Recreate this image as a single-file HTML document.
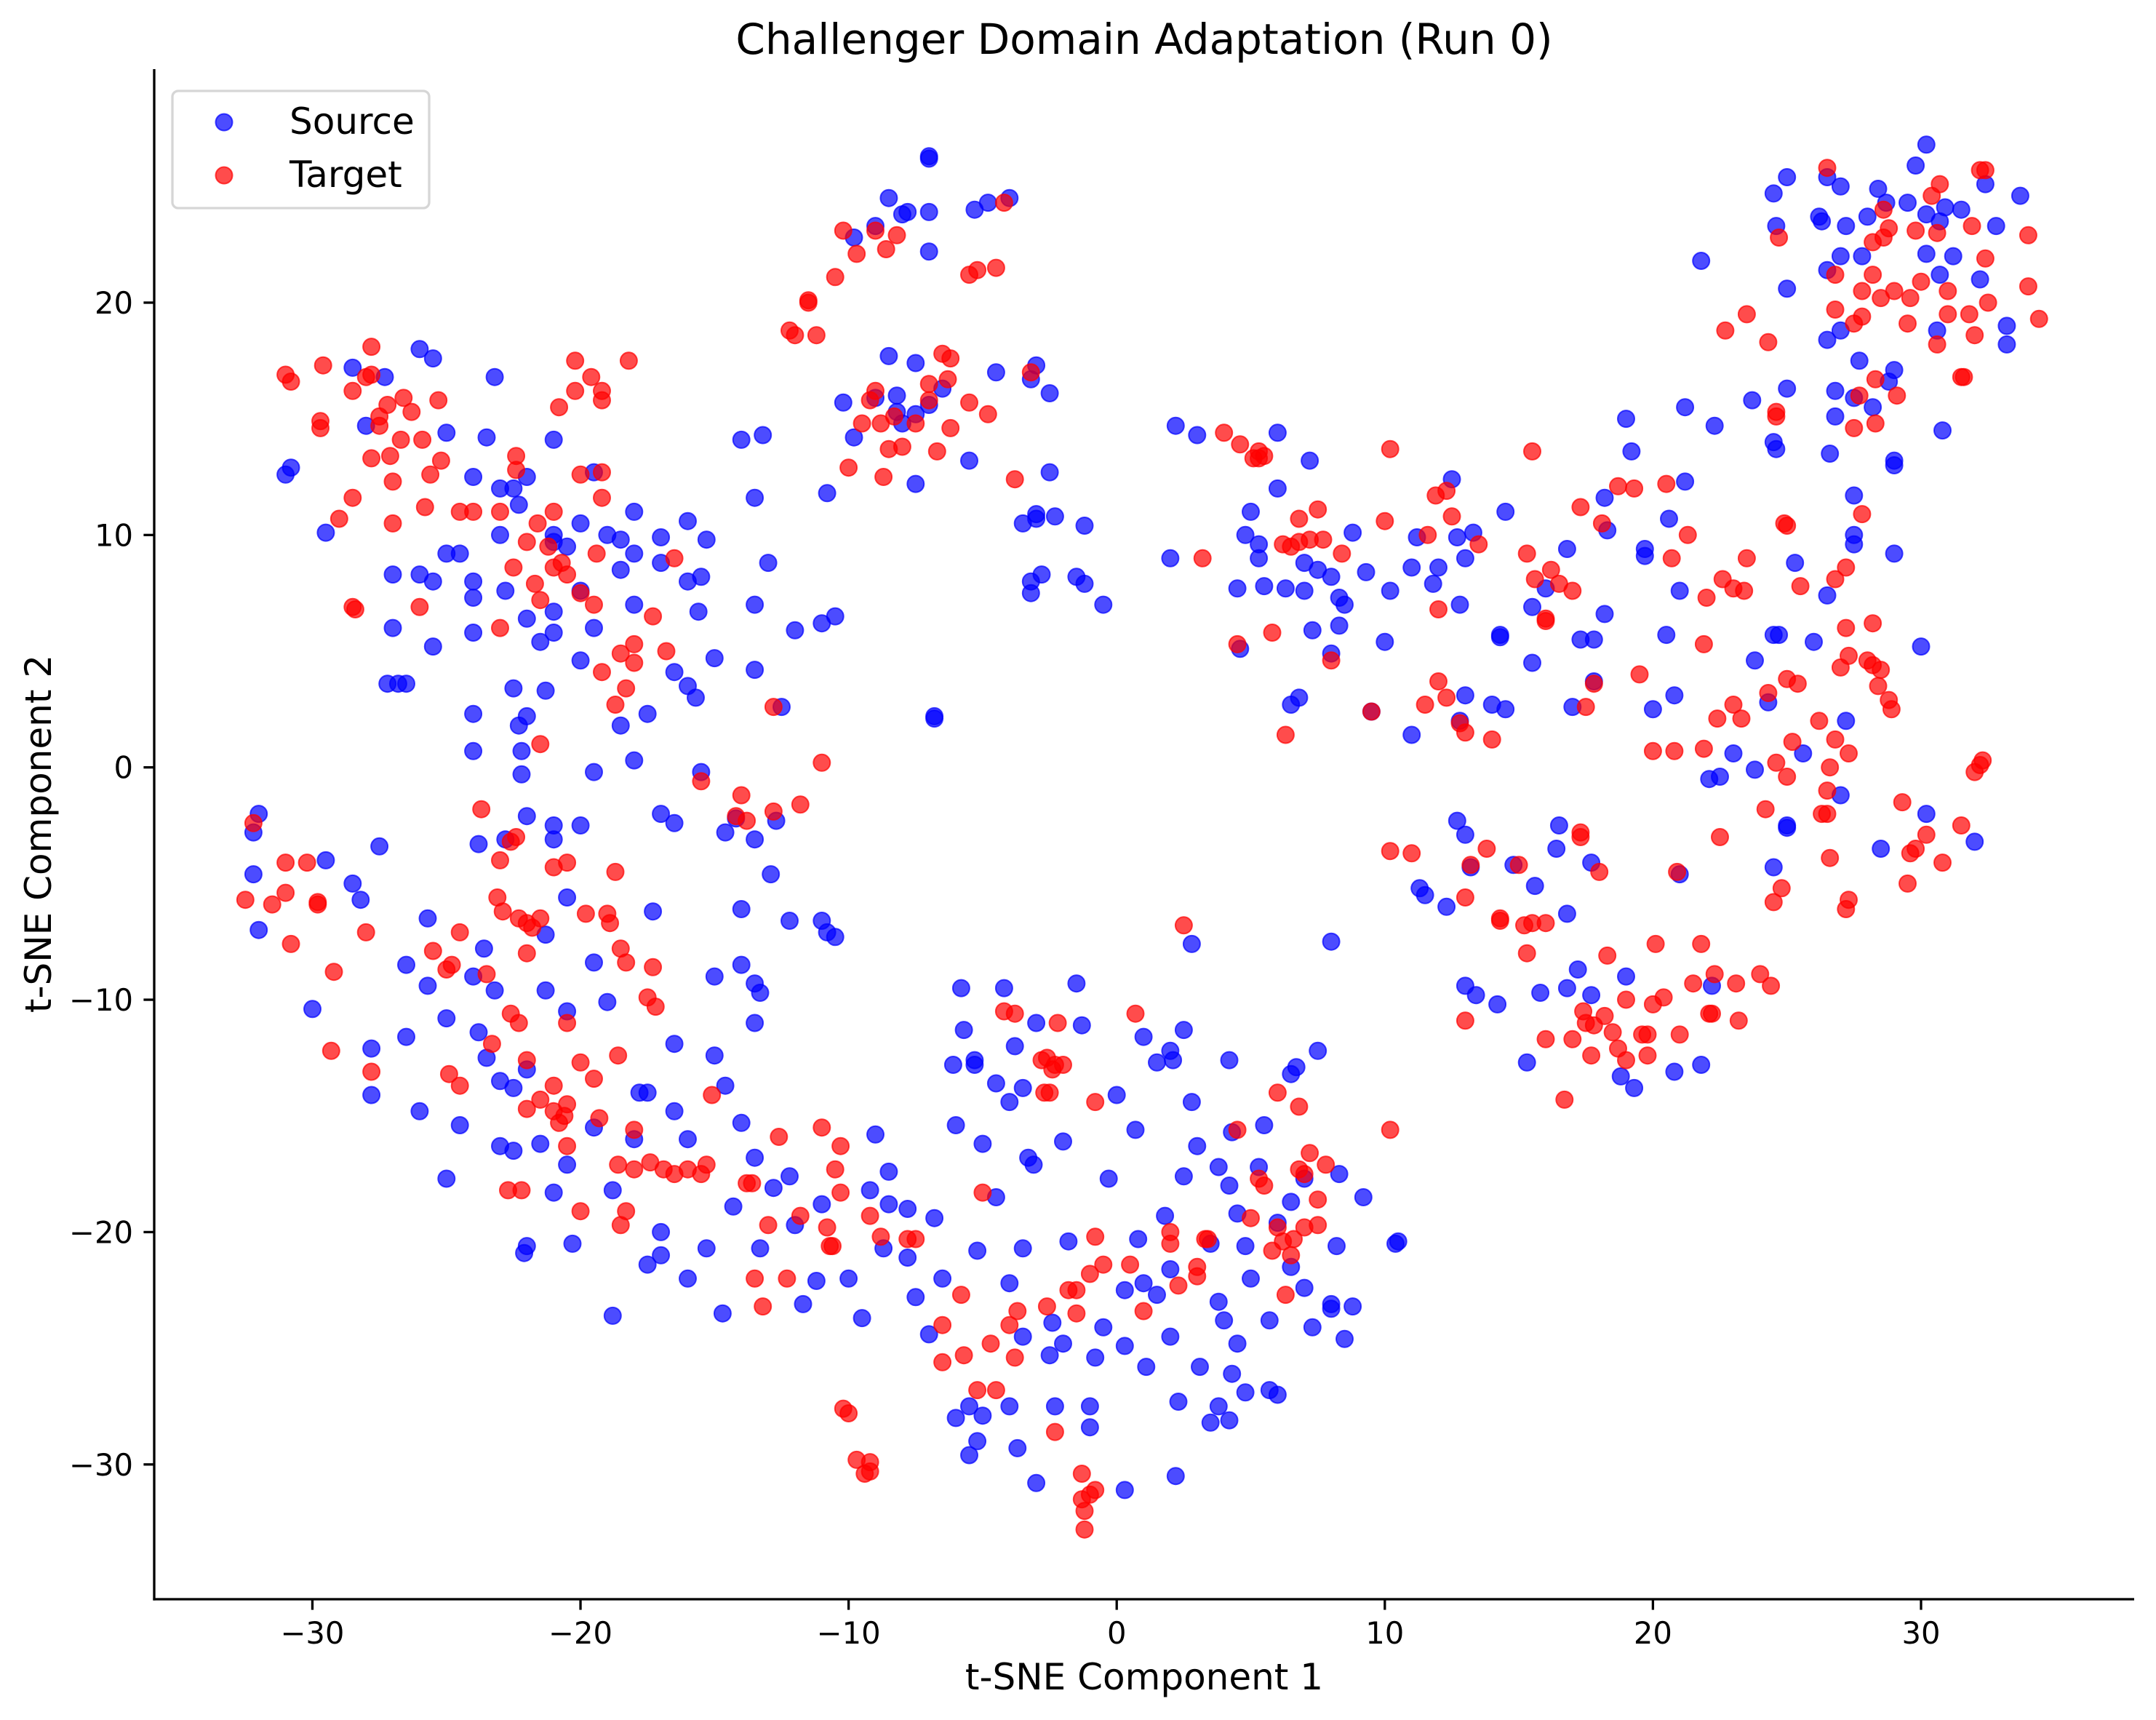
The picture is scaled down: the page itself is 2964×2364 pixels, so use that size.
<!DOCTYPE html>
<html><head><meta charset="utf-8"><style>
html,body{margin:0;padding:0;background:#fff}
svg{display:block;font-family:"DejaVu Sans","Liberation Sans",sans-serif}
</style></head><body>
<svg id="chart" width="2964" height="2364" viewBox="0 0 2964 2364" xmlns="http://www.w3.org/2000/svg">
<rect width="2964" height="2364" fill="#fff"/>
<text x="1573" y="74" font-size="58" text-anchor="middle">Challenger Domain Adaptation (Run 0)</text>
<g id="marks"></g>
<g id="axes"></g>
<text x="1573" y="2322" font-size="50" text-anchor="middle">t-SNE Component 1</text>
<text x="0" y="0" font-size="50" text-anchor="middle" transform="translate(70,1146) rotate(-90)">t-SNE Component 2</text>
<g>
<rect x="237" y="125" width="353" height="161" rx="8" fill="#fff" fill-opacity="0.8" stroke="#d6d6d6" stroke-width="3.3"/>
<circle cx="308" cy="168" r="11.5" fill="#0000ff" fill-opacity="0.7" stroke="#0000ff" stroke-opacity="0.7" stroke-width="2"/>
<text x="398" y="184" font-size="50">Source</text>
<circle cx="308" cy="241" r="11.5" fill="#ff0000" fill-opacity="0.7" stroke="#ff0000" stroke-opacity="0.7" stroke-width="2"/>
<text x="398" y="257" font-size="50">Target</text>
</g>
</svg>
<script>
const xTicks=[-30,-20,-10,0,10,20,30];
const yTicks=[-30,-20,-10,0,10,20];
const sourcePts=[[-31,12.6],[-30.8,12.9],[-29.5,10.1],[-28.5,17.2],[-26,18],[-25.5,17.6],[-27.3,16.8],[-28,14.7],[-25,14.4],[-23.2,16.8],[-23.5,14.2],[-24,12.5],[-22,12.5],[-21,14.1],[-23,12],[-22.3,11.3],[-24.5,9.2],[-25,9.2],[-26,8.3],[-27,8.3],[-25.5,8],[-24,8],[-24,7.3],[-22.8,7.6],[-23,10],[-21,10],[-20.5,9.5],[-20,10.5],[-19.5,12.7],[-18,11],[-18.5,9.8],[-18.5,8.5],[-17,9.9],[-17,8.8],[-16,10.6],[-15.3,9.8],[-15.5,8.2],[-16,8],[-15.6,6.7],[-18,7],[-21,6.7],[-19.5,6],[-21,5.8],[-21.5,5.4],[-22,6.4],[-24,5.8],[-25.5,5.2],[-27,6],[-27.2,3.6],[-26.8,3.6],[-26.5,3.6],[-24,2.3],[-22.5,3.4],[-22,2.2],[-22.3,1.8],[-22.2,0.7],[-22.2,-0.3],[-24,0.7],[-21.3,3.3],[-20,4.6],[-19.5,-0.2],[-18.5,1.8],[-18,0.3],[-17.5,2.3],[-16.5,4.1],[-16,3.5],[-15.7,3],[-15.5,-0.2],[-15,4.7],[-18,9.2],[-19,10],[-20,7.6],[-21,9.7],[-22.5,12],
[-14,14.1],[-13.2,14.3],[-13.5,11.6],[-13,8.8],[-13.5,7],[-12.5,2.6],[-12,5.9],[-11,6.2],[-10.5,6.5],[-10.8,11.8],[-10.2,15.7],[-9.8,14.2],[-9,15.9],[-8.5,17.7],[-7.5,17.4],[-8,14.8],[-7.5,15.2],[-7,15.6],[-7.5,12.2],[-6.5,16.3],[-5.5,13.2],[-4.5,17],[-3,17.3],[-3.2,16.7],[-2.5,16.1],[-3.5,10.5],[-2.5,12.7],[-3,10.7],[-3,10.9],[-2.3,10.8],[-3.2,8],[-3.2,7.5],[-2.8,8.3],[-1.5,8.2],[-1.2,7.9],[-1.2,10.4],[-0.5,7],[-13.5,4.2],[-6.8,2.1],[-6.8,2.2],
[-9.8,22.8],[-9,23.3],[-8.5,24.5],[-8,23.8],[-7.8,23.9],[-7,26.2],[-7,26.3],[-7,23.9],[-7,22.2],[-5.3,24],[-4.8,24.3],[-4,24.5],[-8.2,16],[-8.2,15.3],
[-32,-2],[-32.2,-2.8],[-32.2,-4.6],[-32,-7],[-29.5,-4],[-28.5,-5],[-28.2,-5.7],[-27.5,-3.4],[-30,-10.4],[-27.8,-12.1],[-27.8,-14.1],[-26.5,-8.5],[-26.5,-11.6],[-26,-14.8],[-25.7,-9.4],[-25.7,-6.5],[-25,-10.8],[-24.5,-15.4],[-25,-17.7],[-24,-9],[-23.8,-11.4],[-23.5,-12.5],[-23.6,-7.8],[-23.2,-9.6],[-23,-13.5],[-22.5,-13.8],[-23,-16.3],[-22.5,-16.5],[-22,-13],[-22,-20.6],[-22.1,-20.9],[-21.5,-16.2],[-21,-18.3],[-21.3,-9.6],[-21.3,-7.2],[-20.5,-5.6],[-20.5,-10.5],[-20.5,-17.1],[-20.3,-20.5],[-19.5,-15.5],[-19,-10.1],[-19.5,-8.4],[-20,-2.5],[-21,-2.5],[-21,-3.1],[-22,-2.1],[-22.8,-3.1],[-23.8,-3.3],[-18.8,-18.2],[-18.8,-23.6],[-18,-16],[-17.8,-14],[-17.5,-14],[-17.5,-21.4],[-17,-21],[-17,-20],[-17.3,-6.2],[-17,-2],[-16.5,-2.4],[-16.5,-11.9],[-16.5,-14.8],[-16,-16],[-16,-22],[-15.3,-20.7],[-15,-12.4],[-14.6,-13.7],[-15,-9],[-14.6,-2.8],[-14,-6.1],[-14,-8.5],[-13.5,-9.3],[-13.5,-11],[-13.3,-9.7],[-13.5,-3.1],[-12.9,-4.6],[-12.7,-2.3],[-14,-15.3],[-14.3,-18.9],[-14.7,-23.5],[-13.3,-20.7],[-13.5,-16.8],[-12.8,-18.1],[-12.2,-17.6],[-12,-19.7],[-11.7,-23.1],[-11.2,-22.1],[-11,-18.8],[-12.2,-6.6],[-11,-6.6],[-10.8,-7.1],[-10.5,-7.3],[-10,-22],[-9.5,-23.7],[-9.2,-18.2],[-8.7,-20.7],[-8.5,-17.4],[-8.5,-18.8],[-9,-15.8],[-7.8,-21.1],[-7.5,-22.8],[-7,-24.4],[-6.8,-19.4],[-6.5,-22],[-6,-15.4],[-5.8,-9.5],[-5.7,-11.3],[-6.1,-12.8],[-6,-28],[-5.5,-29.6],[-5.5,-27.5],[-5.2,-29],[-5,-27.9],[-5.3,-12.6],[-5.3,-12.8],[-5,-16.2],[-4.5,-13.6],[-4.5,-18.5],[-4.2,-9.5],[-4,-14.4],[-4,-22.2],[-4,-27.5],[-3.8,-12],[-3.5,-13.8],[-3.5,-20.7],[-3.5,-24.5],[-3.7,-29.3],[-3.3,-16.8],[-3.1,-17.1],[-3,-11],[-3,-30.8],[-2.5,-25.3],[-2.4,-23.9],[-2.3,-27.5],[-2,-24.8],[-1.8,-20.4],[-1.5,-9.3],[-1.3,-11.1],[-1,-28.4],[-1,-27.5],[-0.8,-25.4],[-0.5,-24.1],[-0.3,-17.7],[0,-14.1],[0.3,-22.5],[0.3,-24.9],[0.3,-31.1],[0.7,-15.6],[0.8,-20.3],[1,-11.6],[1,-22.2],[1.1,-25.8],[1.5,-12.7],[1.8,-19.3],[2,-12.2],[2,-21.6],[2.1,-12.6],[2,-24.5],[2.2,-30.5],[2.3,-27.3],[2.5,-11.3],[2.5,-17.6],[2.8,-7.6],[2.8,-14.4],[3,-16.3],[3.1,-25.8],[3.5,-20.5],[3.5,-28.2],[3.8,-23],[3.8,-27.5],[4,-23.8],[4.2,-12.6],[4.2,-18],[4.3,-15.7],[4.3,-26.1],[4.2,-28.1],[4.5,-19.2],[4.5,-24.8],[4.8,-20.6],[4.8,-26.9],[5,-22],[5.5,-15.4],[5.7,-23.8],[5.7,-26.8],[6,-27],[6,-19.6],[6.5,-21.5],[6.5,-18.7],[6.7,-12.9],[7,-17.7],[7,-22.4],[7.3,-24.1],[8,-23.3],[8,-23.1],[8.2,-20.6],[8.3,-17.5],[8.5,-24.6],[8.8,-23.2],[9.2,-18.5],[10.5,-20.4],[10.4,-20.5],[8,-7.5],[7.5,-12.2],[6.5,-13.2],[5.3,-17.2],[1.5,-22.7],[3.8,-17.2],[-7.8,-19],[-5.2,-20.8],[-2,-16.1],[-14.2,-2.2],
[2,9],[2.2,14.7],[3,14.3],[4.5,7.7],[4.6,5.1],[4.8,10],[5,11],[5.3,9.6],[5.5,7.8],[5.3,9],[6,14.4],[6,12],[6.3,7.7],[6.5,2.7],[6.8,3],[7,7.6],[7,8.8],[7.2,13.2],[7.3,5.9],[7.5,8.5],[8,8.2],[8.5,7],[8.3,7.3],[8.3,6.1],[8.8,10.1],[8,4.9],[9.3,8.4],[9.5,2.4],[10,5.4],[10.2,7.6],[11,8.6],[11,1.4],[11.2,9.9],[11.8,7.9],[12,8.6],[12.5,12.4],[12.7,9.9],[12.8,7],[13,9],[13,3.1],[13.3,10.1],[12.8,2],[14,2.7],[14.3,5.7],[14.3,5.6],[14.5,11],[14.5,2.5],[15.5,6.9],[15.5,4.5],[16,7.7],[16.8,9.4],[17,2.6],[17.3,5.5],[17.8,5.5],[17.8,3.7],[18.2,11.6],[18.3,10.2],[18.2,6.6],[19,15],[19.2,13.6],[19.7,9.1],[19.7,9.4],[20,2.5],[20.5,5.7],[20.6,10.7],[20.8,3.1],[21,7.6],[21.2,12.3],[21.2,15.5],[21.8,21.8],[22.3,14.7],[23,0.6],[22.1,-0.5],[22.5,-0.4],[23.7,15.8],[23.8,4.6],[24.3,2.8],[23.8,-0.1],[24.5,5.7],[24.7,5.7],[24.6,13.7],[25,-2.6],[25.3,8.8],[25.6,0.6],[26,5.4],[26.5,7.4],[27,-1.2],[27.2,2],[27.5,10],[27.5,9.6],[27.5,11.7],[28.5,-3.5],[30,5.2],[30.2,-2],[29,9.2],[30.8,14.5],[32,-3.2],
[24.5,24.7],[24.6,23.3],[25,25.4],[25,20.6],[25,16.3],[24.5,14],[26.2,23.7],[26.3,23.5],[26.5,25.4],[26.5,21.4],[26.5,18.4],[26.8,16.2],[26.8,15.1],[26.6,13.5],[27,25],[27,22],[27,18.8],[27.2,23.3],[27.5,15.9],[27.7,17.5],[27.8,22],[28,23.7],[28.2,15.5],[28.4,24.9],[28.7,24.3],[28.8,16.6],[29,17.1],[29,13.2],[29,13],[29.8,25.9],[30.2,26.8],[30.2,23.8],[30.7,23.5],[30.2,22.1],[30.7,21.2],[30.6,18.8],[30.9,24.1],[31.2,22],[31.5,24],[32.2,21],[32.4,25.1],[32.8,23.3],[33.2,19],[33.2,18.2],[33.7,24.6],[29.5,24.3],
[11.3,-5.2],[11.5,-5.5],[12.3,-6],[12.7,-2.3],[13,-2.9],[13,-9.4],[13.2,-4.3],[13.4,-9.8],[14.2,-10.2],[14.8,-4.2],[15.3,-12.7],[15.6,-5.1],[15.8,-9.7],[16.4,-3.5],[16.5,-2.5],[16.8,-6.3],[16.8,-9.5],[17.2,-8.7],[17.7,-4.1],[17.7,-9.8],[18.8,-13.3],[19,-9],[19.3,-13.8],[20.8,-13.1],[21,-4.6],[21.8,-12.8],[22.2,-9.4],[24.5,-4.3],[25,-2.5]];
const targetPts=[[-31,16.9],[-30.8,16.6],[-29.6,17.3],[-29.7,14.9],[-29.7,14.6],[-29,10.7],[-28.5,11.6],[-28.5,16.2],[-28,16.8],[-27.8,18.1],[-27.8,16.9],[-28.5,6.9],[-28.4,6.8],[-27.8,13.3],[-27.5,14.7],[-27.5,15.1],[-27.2,15.6],[-27.1,13.4],[-27,12.3],[-27,10.5],[-26.6,15.9],[-26.7,14.1],[-26.3,15.3],[-25.9,14.1],[-26,6.9],[-25.8,11.2],[-25.6,12.6],[-25.3,15.8],[-25.2,13.2],[-24.5,11],[-24,11],[-23,11],[-22.4,13.4],[-22.4,12.8],[-22.5,8.6],[-22,9.7],[-21.6,10.5],[-21.5,7.2],[-21.7,7.9],[-21.2,9.5],[-21,11],[-21,8.6],[-20.7,8.8],[-20.5,8.3],[-20.8,15.5],[-20.2,17.5],[-20.2,16.2],[-19.6,16.8],[-19.2,15.8],[-19.2,16.2],[-18.2,17.5],[-19.2,12.7],[-19.2,11.6],[-19.5,7],[-19.4,9.2],[-20,7.5],[-20,12.6],[-21.5,1],[-23,6],[-19.2,4.1],[-18.7,2.7],[-18.5,4.9],[-18,5.3],[-18.3,3.4],[-18,4.5],[-17.3,6.5],[-16.8,5],[-16.5,9],[-12.8,2.6],
[-11.5,20.1],[-11.5,20],[-12.2,18.8],[-12,18.6],[-11.2,18.6],[-10.5,21.1],[-10.2,23.1],[-9.7,22.1],[-9,23.1],[-8.6,22.3],[-8.2,22.9],[-5.5,21.2],[-5.2,21.4],[-4.5,21.5],[-4.2,24.3],[-10,12.9],[-9.5,14.8],[-9,16.2],[-8.8,14.8],[-8.7,12.5],[-8.5,13.7],[-8.3,15.1],[-8,13.8],[-7.5,14.8],[-7,16.5],[-7,15.8],[-6.7,13.6],[-6.5,17.8],[-6.3,16.7],[-6.2,14.6],[-5.5,15.7],[-4.8,15.2],[-3.8,12.4],[-3.2,17],[-11,0.2],[-11.8,-1.6],[-12.8,-1.9],[-14,-1.2],[-15.5,-0.6],[-9.2,15.8],[-6.2,17.6],
[-32.5,-5.7],[-32.2,-2.4],[-31.5,-5.9],[-31,-4.1],[-31,-5.4],[-30.8,-7.6],[-30.2,-4.1],[-29.8,-5.9],[-29.8,-5.8],[-29.2,-8.8],[-29.3,-12.2],[-28,-7.1],[-27.8,-13.1],[-25.5,-7.9],[-25,-8.7],[-24.8,-8.5],[-24.9,-13.2],[-24.5,-7.1],[-24.5,-13.7],[-23.7,-1.8],[-23.5,-8.9],[-23.3,-11.9],[-23,-4],[-23.1,-5.6],[-22.9,-6.2],[-22.6,-3.2],[-22.4,-3],[-22.6,-10.6],[-22.3,-6.5],[-22,-6.7],[-22,-8],[-22.3,-11],[-22,-12.6],[-22,-14.7],[-22.7,-18.2],[-22.2,-18.2],[-21.8,-6.9],[-21.5,-6.5],[-21.5,-14.3],[-21,-4.3],[-21,-13.7],[-21,-14.8],[-20.8,-15.3],[-20.6,-15],[-20.5,-4.1],[-20.5,-11],[-20.5,-14.5],[-20.5,-16.3],[-20,-12.7],[-20,-19.1],[-19.8,-6.3],[-19.5,-13.4],[-19.3,-15.1],[-19,-6.3],[-18.9,-6.7],[-18.7,-4.5],[-18.6,-12.4],[-18.6,-17.1],[-18.5,-7.8],[-18.3,-8.4],[-18.3,-19.1],[-18.5,-19.7],[-18,-15.6],[-18,-17.3],[-17.5,-9.9],[-17.3,-8.6],[-17.2,-10.3],[-17.4,-17],[-16.9,-17.3],[-16.5,-17.5],[-16,-17.3],[-15.5,-17.5],[-15.3,-17.1],[-15.1,-14.1],[-13.8,-17.9],[-13.6,-17.9],[-13.5,-22],[-13.2,-23.2],[-13,-19.7],[-12.6,-15.9],[-12.3,-22],[-11.8,-19.3],[-11,-15.5],[-10.8,-19.8],[-10.7,-20.6],[-10.6,-20.6],[-10.5,-17.3],[-10.3,-16.3],[-10.3,-18.3],[-10.2,-27.6],[-10,-27.8],[-9.7,-29.8],[-9.4,-30.4],[-9.2,-29.9],[-9.2,-30.3],[-9.2,-19.3],[-8.8,-20.2],[-7.8,-20.3],[-7.5,-20.3],[-6.5,-24],[-6.5,-25.6],[-5.8,-22.7],[-5.7,-25.3],[-5.2,-26.8],[-5,-18.3],[-4.7,-24.8],[-4.5,-26.8],[-4.2,-10.5],[-4,-24],[-3.8,-10.6],[-3.7,-23.4],[-3.8,-25.4],[-2.8,-12.6],[-2.7,-14],[-2.6,-12.5],[-2.5,-14],[-2.6,-23.2],[-2.3,-28.6],[-2.4,-13],[-2.3,-12.8],[-2.2,-11],[-2,-12.8],[-1.8,-22.5],[-1.5,-23.5],[-1.5,-22.5],[-1.3,-31.5],[-1.3,-30.4],[-1.2,-32],[-1.2,-32.8],[-1,-31.3],[-0.8,-31.1],[-0.8,-14.4],[-0.8,-20.2],[-1,-21.8],[-0.5,-21.4],[0.7,-10.6],[0.5,-21.4],[1,-23.4],[2,-20],[2,-20.5],[2.3,-22.3],[2.5,-6.8],[3,-21.9],[3,-21.5],[3.3,-20.3],[3.4,-20.3],[4.5,-15.6],[5,-19.4],[5.3,-17.7],[5.5,-18],[5.8,-20.8],[6,-14],[6,-19.8],[6.2,-20.4],[6.3,-22.7],[6.5,-21],[6.8,-14.6],[6.6,-20.3],[6.8,-17.3],[7,-17.5],[7,-19.8],[7.2,-16.6],[7.5,-18.6],[7.5,-19.7],[7.8,-17.1],[10.2,-15.6],[-14.2,-2.1],[-13.8,-2.3],
[3.2,9],[4,14.4],[4.5,5.3],[4.6,13.9],[5.1,13.3],[5.3,13.3],[5.5,13.4],[5.3,13.6],[5.8,5.8],[6.2,9.6],[6.3,1.4],[6.5,9.5],[6.8,10.7],[6.8,9.7],[7.2,9.8],[7.5,11.1],[7.7,9.8],[8,4.6],[8.4,9.2],[9.5,2.4],[10,10.6],[10.2,13.7],[11.5,2.7],[11.6,10],[11.9,11.7],[12,3.7],[12,6.8],[12.3,11.9],[12.5,10.8],[12.8,1.9],[13,1.5],[13.5,9.6],[13.8,-3.5],[14,1.2],[14.3,-6.5],[14.3,-6.6],[15,-4.2],[15.3,9.2],[15.3,-8],[15.5,-6.7],[15.6,8.1],[15.5,13.6],[16,6.3],[16,6.4],[16.2,8.5],[16.5,7.9],[17,7.6],[17.3,-3],[17.3,-2.8],[17.5,2.6],[17.8,3.6],[18,-4.5],[17.3,11.2],[18.1,10.5],[18.3,-8.1],[18.7,12.1],[19,-10],[19.3,12],[19.5,4],[19.8,-11.5],[20,0.7],[20.1,-7.6],[20,-10.2],[20.4,-9.9],[20.5,12.2],[20.7,9],[20.8,0.7],[20.9,-4.5],[21,-11.5],[21.3,10],[21.5,-9.3],[21.8,-7.6],[21.9,0.8],[21.9,5.3],[22,7.3],[22.2,-10.6],[22.1,-10.6],[22.3,-8.9],[22.4,2.1],[22.5,-3],[22.6,8.1],[22.7,18.8],[23,7.7],[23,2.7],[23.1,-9.3],[23.2,-10.9],[23.3,2.1],[23.4,7.6],[23.5,19.5],[23.5,9],[24,-8.9],[24.2,-1.8],[24.3,18.3],[24.3,3.2],[24.4,-9.4],[24.5,-5.8],[24.6,15.3],[24.6,15.1],[24.6,0.2],[24.7,22.8],[24.8,-5.2],[24.9,10.5],[25,10.4],[25,-0.4],[25,3.8],[25.2,1.1],[25.4,3.6],[25.5,7.8],[26.2,2],[26.3,-2],[26.5,-1],[26.5,-2],[26.6,0],[26.6,-3.9],[26.5,25.8],[26.8,1.2],[27,4.3],[26.8,8.1],[27.2,8.6],[27.2,6],[27.3,4.8],[27.2,-6.1],[27.3,-5.7],[27.3,0.6],[26.8,19.7],[26.8,21.2],[27.5,19.1],[27.5,14.6],[27.7,16],[27.8,10.9],[27.8,19.4],[27.8,20.5],[28,4.6],[28.2,4.4],[28.2,6.2],[28.3,16.7],[28.2,22.6],[28.3,14.8],[28.2,21.2],[28.4,3.5],[28.5,4.2],[28.5,20.2],[28.6,22.8],[28.8,2.9],[28.8,23.2],[28.6,24],[28.9,2.5],[29.1,16],[29,20.5],[29.3,-1.5],[29.5,-5],[29.5,19.1],[29.6,20.2],[29.6,-3.7],[29.8,23.1],[29.8,-3.5],[30,20.9],[30.2,-2.9],[30.4,24.6],[30.6,23],[30.6,18.2],[30.7,25.1],[30.8,-4.1],[31,20.5],[31,19.5],[31.5,-2.5],[31.5,16.8],[31.6,16.8],[31.8,19.5],[31.9,23.3],[32,18.6],[32,-0.2],[32.2,0.1],[32.3,0.3],[32.2,25.7],[32.4,25.7],[32.4,21.9],[32.5,20],[34,22.9],[34,20.7],[34.4,19.3],[16,-11.7],[16.7,-14.3],[17,-11.7],[17.4,-10.5],[17.5,-11],[17.7,-12.4],[17.8,-11.1],[18.2,-10.7],[18.5,-11.4],[18.7,-12.1],[19,-12.6],[19.6,-11.5],[19.8,-12.4],[15.2,-6.8],[16,-6.7],[13,-10.9],[13,-5.6],[10.2,-3.6],[11,-3.7],[12.3,3],[13.2,-4.2]];

const NS="http://www.w3.org/2000/svg";
const L=212,R=2934,T=95,B=2198;
const xMin=-35.9,xMax=37.95,yMin=-35.8,yMax=30.05;
function sx(v){return L+(v-xMin)/(xMax-xMin)*(R-L);}
function sy(v){return B-(v-yMin)/(yMax-yMin)*(B-T);}
const marks=document.getElementById('marks');
function drawSeries(pts,color,name){
  pts.forEach(function(p){
    const c=document.createElementNS(NS,'circle');
    c.setAttribute('cx',sx(p[0]).toFixed(1));
    c.setAttribute('cy',sy(p[1]).toFixed(1));
    c.setAttribute('r','11.5');
    c.setAttribute('fill',color);
    c.setAttribute('fill-opacity','0.7');
    c.setAttribute('stroke',color);
    c.setAttribute('stroke-opacity','0.7');
    c.setAttribute('stroke-width','2');
    
    
    marks.appendChild(c);
  });
}
drawSeries(sourcePts,'#0000ff','source-point');
drawSeries(targetPts,'#ff0000','target-point');
const axes=document.getElementById('axes');
function line(x1,y1,x2,y2,name){
  const l=document.createElementNS(NS,'line');
  l.setAttribute('x1',x1);l.setAttribute('y1',y1);l.setAttribute('x2',x2);l.setAttribute('y2',y2);
  l.setAttribute('stroke','#000');l.setAttribute('stroke-width','3.3');
  
  
  axes.appendChild(l);
}
function label(x,y,txt,anchor,name){
  const t=document.createElementNS(NS,'text');
  t.setAttribute('x',x);t.setAttribute('y',y);t.setAttribute('font-size','41.7');
  t.setAttribute('text-anchor',anchor);
  t.textContent=txt;
  
  
  axes.appendChild(t);
}
line(L,T,L,B+1.6,'y-axis-spine');
line(L-1.6,B,R,B,'x-axis-spine');
function fmt(v){return v<0?'\u2212'+Math.abs(v):String(v);}
xTicks.forEach(function(v){
  const x=sx(v);
  line(x,B,x,B+14.6,'x-tick');
  label(x,2259,fmt(v),'middle','x-tick-label');
});
yTicks.forEach(function(v){
  const y=sy(v);
  line(L-14.6,y,L,y,'y-tick');
  label(183,y+15,fmt(v),'end','y-tick-label');
});
</script>
</body></html>
